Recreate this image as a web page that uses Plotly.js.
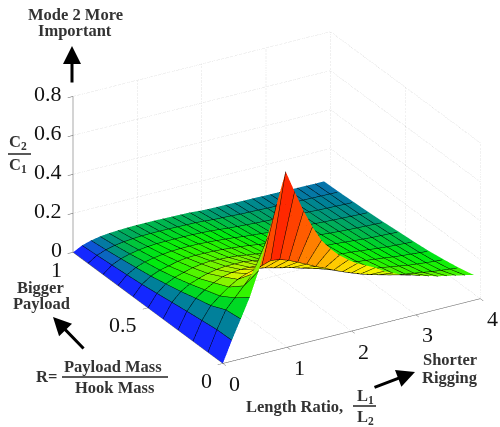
<!DOCTYPE html>
<html><head><meta charset="utf-8">
<script src="https://cdn.plot.ly/plotly-3.0.1.min.js"></script>
<style>html,body{margin:0;padding:0;background:#fff}#p{width:500px;height:427px}</style></head>
<body><div id="p"></div>
<script>
const lengthRatio=[0,.1393,.2786,.4179,.5572,.6965,.8358,.9751,1.1144,1.2537,1.393,1.5323,1.6716,1.8109,1.9502,2.0895,2.2288,2.3681,2.5074,2.6467,2.786,2.9253,3.0646,3.2039,3.3432,3.4825,3.6218,3.7611,3.9004];
const massRatio=[0,.1,.2,.3,.4,.5,.6,.7,.8,.9,1];
const ratio=[
[0,.107,.205,.305,.43,.59,.75,.905,.79,.68,.585,.505,.45,.405,.37,.34,.318,.295,.265,.245,.223,.21,.195,.182,.169,.16,.15,.14,.13],
[0,.105,.195,.245,.295,.345,.375,.39,.384,.368,.347,.325,.302,.282,.26,.24,.222,.205,.19,.178,.166,.155,.147,.14,.133,.125,.12,.115,.11],
[0,.095,.16,.198,.232,.26,.278,.29,.284,.272,.261,.25,.236,.222,.21,.196,.183,.172,.161,.15,.14,.135,.127,.12,.112,.107,.102,.098,.095],
[0,.085,.14,.172,.197,.216,.226,.23,.23,.228,.22,.21,.2,.188,.175,.164,.155,.145,.136,.128,.12,.115,.109,.104,.098,.093,.089,.085,.082],
[0,.074,.118,.145,.162,.176,.185,.19,.19,.19,.183,.176,.168,.158,.148,.14,.131,.123,.116,.11,.103,.10,.095,.09,.085,.081,.078,.075,.073],
[0,.063,.1,.122,.136,.148,.156,.16,.157,.155,.151,.144,.138,.131,.124,.118,.111,.105,.10,.095,.09,.087,.083,.079,.075,.072,.07,.068,.066],
[0,.052,.083,.102,.112,.124,.13,.132,.131,.13,.127,.123,.118,.113,.106,.101,.096,.091,.086,.082,.078,.076,.072,.069,.066,.064,.062,.06,.058],
[0,.044,.07,.087,.096,.103,.108,.11,.11,.11,.107,.104,.10,.096,.09,.086,.082,.078,.074,.071,.068,.067,.064,.061,.059,.057,.055,.053,.052],
[0,.037,.058,.071,.08,.086,.089,.09,.09,.09,.089,.087,.085,.081,.076,.073,.07,.067,.065,.063,.06,.059,.057,.055,.053,.051,.05,.048,.047],
[0,.03,.047,.058,.065,.069,.072,.073,.073,.073,.072,.071,.07,.067,.063,.061,.059,.056,.055,.054,.052,.051,.05,.048,.047,.046,.045,.044,.043],
[0,.024,.038,.047,.052,.055,.057,.058,.058,.058,.057,.056,.055,.054,.05,.048,.047,.047,.046,.045,.045,.044,.043,.043,.042,.041,.041,.04,.04]
];
const colourCap=[0,.05,.09,.14,.2];
const xTicks=[0,1,2,3,4], yTicks=[0,.5,1], zTicks=[0,.2,.4,.6,.8];
const zTop=.8, zMax=.95, peak=.905;
const colourLevels=[0,.02,.04,.05,.065,.08,.1,.13,.18,.24,.3,.4,.55,.7,.905];
const colourValues=['rgb(20,40,255)','rgb(15,70,235)','rgb(10,110,180)','rgb(0,130,150)','rgb(0,165,100)','rgb(0,205,50)','rgb(0,235,15)','rgb(40,245,0)','rgb(110,245,0)','rgb(190,245,0)','rgb(250,245,0)','rgb(255,205,0)','rgb(255,140,0)','rgb(255,85,0)','rgb(255,40,0)'];
const scale=colourLevels.map((v,i)=>[v/peak,colourValues[i]]);

// Flat-shaded cells: each grid line is doubled so one colour fills a whole cell.
const eps=.0005;
function doubled(a){const o=[a[0]];for(let i=1;i<a.length;i++){o.push(a[i]-eps);if(i<a.length-1)o.push(a[i]);}return o;}
const xx=doubled(lengthRatio), yy=doubled(massRatio);
const zz=yy.map((_,k)=>xx.map((_,m)=>ratio[Math.ceil(k/2)][Math.ceil(m/2)]));
const cc=yy.map((_,k)=>xx.map((_,m)=>{const j=Math.floor(k/2),i=Math.floor(m/2);const v=ratio[j][i];return i<colourCap.length?Math.min(v,colourCap[i]):v;}));

const surf={type:'surface',x:xx,y:yy,z:zz,surfacecolor:cc,cmin:0,cmax:peak,colorscale:scale,showscale:false,hoverinfo:'skip',
 lighting:{ambient:1,diffuse:0,specular:0,roughness:1,fresnel:0},
 contours:{x:{show:true,start:0,end:3.9004,size:.1393,color:'#000',width:2,highlight:false},
           y:{show:true,start:0,end:1,size:.1,color:'#000',width:2,highlight:false},
           z:{highlight:false}}};
function seg(x,y,z,color,dash){return {type:'scatter3d',mode:'lines',x:x,y:y,z:z,hoverinfo:'skip',showlegend:false,line:{color:color,width:1,dash:dash||'solid'}};}
const traces=[surf];
const grid='#c4c4c4';
xTicks.forEach(v=>{traces.push(seg([v,v],[1,1],[0,zTop],grid,'dot'));traces.push(seg([v,v],[0,1],[0,0],grid,'dot'));});
yTicks.forEach(v=>{traces.push(seg([4,4],[v,v],[0,zTop],grid,'dot'));traces.push(seg([0,4],[v,v],[0,0],grid,'dot'));});
zTicks.forEach(v=>{traces.push(seg([0,4],[1,1],[v,v],grid,'dot'));traces.push(seg([4,4],[0,1],[v,v],grid,'dot'));});
traces.push(seg([0,0],[1,1],[0,zTop],'#555'));
traces.push(seg([0,4],[0,0],[0,0],'#555'));
traces.push(seg([0,0],[0,1],[0,0],'#555'));

const tickFont={family:'Liberation Serif',size:22,color:'#111'};
const sceneAnn=[];
zTicks.forEach(v=>sceneAnn.push({x:0,y:1,z:v,text:String(v),showarrow:false,xanchor:'right',yanchor:'middle',xshift:-9,yshift:3,font:tickFont}));
yTicks.forEach(v=>sceneAnn.push({x:0,y:v,z:0,text:String(v),showarrow:false,xanchor:'right',yanchor:'middle',xshift:-9,yshift:-17,font:tickFont}));
xTicks.forEach(v=>sceneAnn.push({x:v,y:0,z:0,text:String(v),showarrow:false,xanchor:'center',yanchor:'middle',xshift:12,yshift:-20,font:tickFont}));

const W=500,H=427;
const lab={family:'Liberation Serif',size:16.5,color:'#333'};
function T(t,px,py,anchor,font){return {xref:'paper',yref:'paper',x:px/W,y:1-py/H,text:t,showarrow:false,xanchor:anchor||'center',yanchor:'middle',font:font||lab};}
function A(x0,y0,x1,y1){return {xref:'paper',yref:'paper',x:x1/W,y:1-y1/H,axref:'pixel',ayref:'pixel',ax:x0-x1,ay:y0-y1,text:'',showarrow:true,arrowhead:2,arrowsize:1.2,arrowwidth:3,arrowcolor:'#000'};}
function L(x0,x1,y){return {type:'line',xref:'paper',yref:'paper',x0:x0/W,x1:x1/W,y0:1-y/H,y1:1-y/H,line:{color:'#222',width:1.5}};}
const layout={width:W,height:H,margin:{l:0,r:0,t:0,b:0},paper_bgcolor:'#fff',showlegend:false,
 scene:{domain:{x:[0,1],y:[0,1]},aspectmode:'manual',aspectratio:{x:1.395,y:1.395,z:.961},
  camera:{projection:{type:'orthographic'},up:{x:0,y:0,z:1},center:{x:-.139,y:.0093,z:-.129},eye:{x:-.593,y:-.770,z:.303}},
  xaxis:{range:[0,4],tickvals:xTicks,showticklabels:false,ticks:'outside',ticklen:6,tickcolor:'#555',showgrid:false,zeroline:false,showline:false,showbackground:false,showspikes:false,title:{text:''}},
  yaxis:{range:[0,1],tickvals:yTicks,showticklabels:false,ticks:'outside',ticklen:6,tickcolor:'#555',showgrid:false,zeroline:false,showline:false,showbackground:false,showspikes:false,title:{text:''}},
  zaxis:{range:[0,zMax],tickvals:zTicks,showticklabels:false,ticks:'outside',ticklen:6,tickcolor:'#555',showgrid:false,zeroline:false,showline:false,showbackground:false,showspikes:false,title:{text:''}},
  annotations:sceneAnn},
 annotations:[
  T('<b>Mode 2 More</b>',75,14),T('<b>Important</b>',75,31),
  T('<b>C<sub>2</sub></b>',18,142),T('<b>C<sub>1</sub></b>',18,165),
  T('<b>Bigger</b>',40,287),T('<b>Payload</b>',41,303),
  T('<b>R=</b>',46,376),T('<b>Payload Mass</b>',113,366),T('<b>Hook Mass</b>',115,387),
  T('<b>Length Ratio,</b>',294,406),T('<b>L<sub>1</sub></b>',365,396),T('<b>L<sub>2</sub></b>',365,417),
  T('<b>Shorter</b>',450,359),T('<b>Rigging</b>',450,377),
  A(72,84,72,46),A(85,350,53,317),A(373,388,415,372)
 ],
 shapes:[L(8,31,154),L(62,168,377),L(353,376,406)]};
Plotly.newPlot('p',traces,layout,{displayModeBar:false});
</script></body></html>
